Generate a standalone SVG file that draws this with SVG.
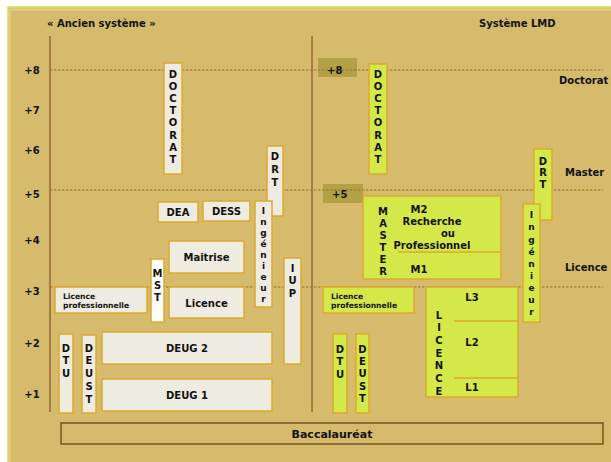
<svg xmlns="http://www.w3.org/2000/svg" width="611" height="462" viewBox="0 0 611 462">
<style>
.t{font-family:"DejaVu Sans",Verdana,sans-serif;font-weight:bold;font-size:10px;fill:#111}
.c{text-anchor:middle}
.s8{font-size:7.6px}
.s9{font-size:9px}
.old{fill:#EEEBE0;stroke:#DCAA2E;stroke-width:1.5}
.mst{fill:#FFFFFF;stroke:#DCAA2E;stroke-width:1.5}
.new{fill:#D4E84A;stroke:#DCAA2E;stroke-width:1.5}
.badge{fill:#B3A245}
.dash{stroke:#9A6B34;stroke-width:1.2;stroke-dasharray:2.5,1.5;fill:none}
.axis{stroke:#8B5A2B;stroke-width:1.3;fill:none}
.div{stroke:#DCAA2E;stroke-width:1.5;fill:none}
</style>
<rect x="0" y="0" width="611" height="462" fill="#FFFFFF"/>
<rect x="8" y="7" width="604" height="456" fill="#D7BB6D" stroke="#C9E64A" stroke-width="1.5"/>
<path d="M9.5 9.5 H611 M9.5 9.5 V462" stroke="#E6CE8A" stroke-width="2" fill="none"/>

<g id="titles">
<text class="t" x="47" y="26.6">« Ancien système »</text>
<text class="t" x="479" y="26.6">Système LMD</text>
<text class="t" x="559" y="83.6">Doctorat</text>
<text class="t" x="565" y="175.6">Master</text>
<text class="t" x="565" y="270.6">Licence</text>
</g>

<g id="levels">
<text class="t c" x="32" y="73.6">+8</text>
<text class="t c" x="32" y="113.6">+7</text>
<text class="t c" x="32" y="153.6">+6</text>
<text class="t c" x="32" y="197.6">+5</text>
<text class="t c" x="32" y="243.6">+4</text>
<text class="t c" x="32" y="294.6">+3</text>
<text class="t c" x="32" y="346.6">+2</text>
<text class="t c" x="32" y="398">+1</text>
</g>

<g id="badges">
<rect class="badge" x="318" y="58" width="39" height="19"/>
<rect class="badge" x="323" y="184" width="40" height="19"/>
</g>

<g id="connectors">
<line class="axis" x1="50" y1="36" x2="50" y2="412"/>
<line class="axis" x1="312" y1="36" x2="312" y2="412"/>
<line class="dash" x1="50" y1="70" x2="603" y2="70"/>
<line class="dash" x1="50" y1="190" x2="603" y2="190"/>
<line class="dash" x1="50" y1="287" x2="603" y2="287"/>
</g>

<g id="badge-labels">
<text class="t" x="327" y="73.6">+8</text>
<text class="t" x="332" y="197.6">+5</text>
</g>

<g id="old-doctorat">
<rect class="old" x="164" y="63" width="18" height="111"/>
<text class="t c" x="173" y="78"><tspan x="173">D</tspan><tspan x="173" dy="12.1">O</tspan><tspan x="173" dy="12.1">C</tspan><tspan x="173" dy="12.1">T</tspan><tspan x="173" dy="12.1">O</tspan><tspan x="173" dy="12.1">R</tspan><tspan x="173" dy="12.1">A</tspan><tspan x="173" dy="12.1">T</tspan></text>
</g>
<g id="old-drt">
<rect class="old" x="267" y="146" width="16" height="70"/>
<text class="t c" x="275" y="159.6"><tspan x="275">D</tspan><tspan x="275" dy="13">R</tspan><tspan x="275" dy="13">T</tspan></text>
</g>
<g id="old-dea">
<rect class="old" x="158" y="202" width="40" height="20"/>
<text class="t c" x="178" y="215.6">DEA</text>
</g>
<g id="old-dess">
<rect class="old" x="203" y="201" width="47" height="20"/>
<text class="t c" x="226.5" y="214.6">DESS</text>
</g>
<g id="old-ingenieur">
<rect class="old" x="255" y="201" width="17" height="106"/>
<text class="t c s9" x="263.5" y="214.3"><tspan x="263.5">I</tspan><tspan x="263.5" dy="10.9">n</tspan><tspan x="263.5" dy="10.9">g</tspan><tspan x="263.5" dy="10.9">é</tspan><tspan x="263.5" dy="10.9">n</tspan><tspan x="263.5" dy="10.9">i</tspan><tspan x="263.5" dy="10.9">e</tspan><tspan x="263.5" dy="10.9">u</tspan><tspan x="263.5" dy="10.9">r</tspan></text>
</g>
<g id="old-maitrise">
<rect class="old" x="169" y="241" width="75" height="32"/>
<text class="t c" x="206.5" y="260.6">Maitrise</text>
</g>
<g id="old-mst">
<rect class="mst" x="151" y="259" width="13" height="63"/>
<text class="t c" x="157.5" y="276.6"><tspan x="157.5">M</tspan><tspan x="157.5" dy="12">S</tspan><tspan x="157.5" dy="12">T</tspan></text>
</g>
<g id="old-licence">
<rect class="old" x="169" y="287" width="75" height="31"/>
<text class="t c" x="206.5" y="306.6">Licence</text>
</g>
<g id="old-iup">
<rect class="old" x="284" y="258" width="17" height="106"/>
<text class="t c" x="292.5" y="271.6"><tspan x="292.5">I</tspan><tspan x="292.5" dy="12.5">U</tspan><tspan x="292.5" dy="12.5">P</tspan></text>
</g>
<g id="old-licence-pro">
<rect class="old" x="55" y="287" width="92" height="26"/>
<text class="t s8" x="63" y="298.6">Licence</text>
<text class="t s8" x="63" y="307.8">professionnelle</text>
</g>
<g id="old-dtu">
<rect class="old" x="59" y="334" width="14" height="79"/>
<text class="t c" x="66" y="351.6"><tspan x="66">D</tspan><tspan x="66" dy="12.7">T</tspan><tspan x="66" dy="12.7">U</tspan></text>
</g>
<g id="old-deust">
<rect class="old" x="82" y="335" width="14" height="78"/>
<text class="t c" x="89" y="351.6"><tspan x="89">D</tspan><tspan x="89" dy="12.75">E</tspan><tspan x="89" dy="12.75">U</tspan><tspan x="89" dy="12.75">S</tspan><tspan x="89" dy="12.75">T</tspan></text>
</g>
<g id="old-deug2">
<rect class="old" x="102" y="332" width="170" height="32"/>
<text class="t c" x="187" y="351.6">DEUG 2</text>
</g>
<g id="old-deug1">
<rect class="old" x="102" y="379" width="170" height="32"/>
<text class="t c" x="187" y="398.6">DEUG 1</text>
</g>

<g id="new-doctorat">
<rect class="new" x="369" y="64" width="18" height="110"/>
<text class="t c" x="378" y="78"><tspan x="378">D</tspan><tspan x="378" dy="12.1">O</tspan><tspan x="378" dy="12.1">C</tspan><tspan x="378" dy="12.1">T</tspan><tspan x="378" dy="12.1">O</tspan><tspan x="378" dy="12.1">R</tspan><tspan x="378" dy="12.1">A</tspan><tspan x="378" dy="12.1">T</tspan></text>
</g>
<g id="new-drt">
<rect class="new" x="534" y="149" width="18" height="71"/>
<text class="t c" x="543" y="164.6"><tspan x="543">D</tspan><tspan x="543" dy="11.8">R</tspan><tspan x="543" dy="11.8">T</tspan></text>
</g>
<g id="new-ingenieur">
<rect class="new" x="523" y="204" width="17" height="118"/>
<text class="t c s9" x="531.5" y="218.3"><tspan x="531.5">I</tspan><tspan x="531.5" dy="12.1">n</tspan><tspan x="531.5" dy="12.1">g</tspan><tspan x="531.5" dy="12.1">é</tspan><tspan x="531.5" dy="12.1">n</tspan><tspan x="531.5" dy="12.1">i</tspan><tspan x="531.5" dy="12.1">e</tspan><tspan x="531.5" dy="12.1">u</tspan><tspan x="531.5" dy="12.1">r</tspan></text>
</g>
<g id="new-master">
<rect class="new" x="363" y="196" width="138" height="83"/>
<line class="div" x1="398" y1="252" x2="501" y2="252"/>
<text class="t c" x="383" y="214.6"><tspan x="383">M</tspan><tspan x="383" dy="12">A</tspan><tspan x="383" dy="12">S</tspan><tspan x="383" dy="12">T</tspan><tspan x="383" dy="12">E</tspan><tspan x="383" dy="12">R</tspan></text>
<text class="t c" x="419" y="212.6">M2</text>
<text class="t c" x="432" y="224.6">Recherche</text>
<text class="t c" x="448" y="236.6">ou</text>
<text class="t c" x="432" y="248.6">Professionnel</text>
<text class="t c" x="419" y="272.6">M1</text>
</g>
<g id="new-licence-pro">
<rect class="new" x="323" y="287" width="91" height="26"/>
<text class="t s8" x="331" y="299">Licence</text>
<text class="t s8" x="331" y="308.2">professionnelle</text>
</g>
<g id="new-licence">
<rect class="new" x="426" y="287" width="92" height="110"/>
<line class="div" x1="454" y1="321" x2="518" y2="321"/>
<line class="div" x1="454" y1="378" x2="518" y2="378"/>
<text class="t c" x="439" y="318.6"><tspan x="439">L</tspan><tspan x="439" dy="12.7">I</tspan><tspan x="439" dy="12.7">C</tspan><tspan x="439" dy="12.7">E</tspan><tspan x="439" dy="12.7">N</tspan><tspan x="439" dy="12.7">C</tspan><tspan x="439" dy="12.7">E</tspan></text>
<text class="t c" x="472" y="300.6">L3</text>
<text class="t c" x="472" y="345.6">L2</text>
<text class="t c" x="472" y="390.6">L1</text>
</g>
<g id="new-dtu">
<rect class="new" x="333" y="334" width="14" height="79"/>
<text class="t c" x="340" y="352.6"><tspan x="340">D</tspan><tspan x="340" dy="12.5">T</tspan><tspan x="340" dy="12.5">U</tspan></text>
</g>
<g id="new-deust">
<rect class="new" x="356" y="334" width="13" height="79"/>
<text class="t c" x="362.5" y="352.6"><tspan x="362.5">D</tspan><tspan x="362.5" dy="12.3">E</tspan><tspan x="362.5" dy="12.3">U</tspan><tspan x="362.5" dy="12.3">S</tspan><tspan x="362.5" dy="12.3">T</tspan></text>
</g>

<g id="baccalaureat">
<rect x="61" y="423" width="542" height="21" fill="none" stroke="#7A5520" stroke-width="1.5"/>
<text class="t c" x="332" y="437.8" style="font-size:11px">Baccalauréat</text>
</g>
</svg>
